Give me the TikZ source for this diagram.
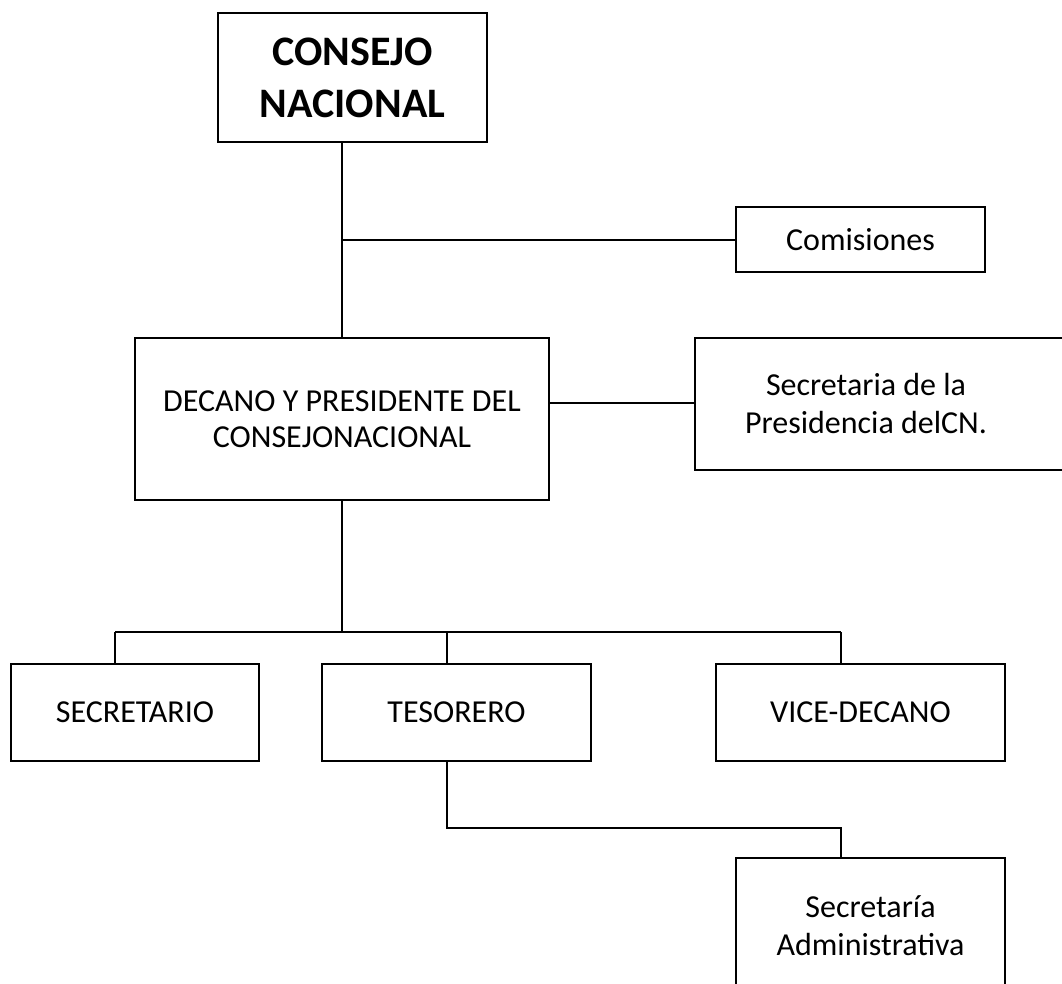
\documentclass[tikz,border=0pt]{standalone}
\usepackage{fontspec}
\setmainfont{Carlito}
\begin{document}
\begin{tikzpicture}[x=1pt,y=-1pt,
  box/.style={draw, line width=2pt, inner sep=0pt, outer sep=0pt, anchor=north west, align=center, font=\fontsize{32}{36}\selectfont},
  lbl/.style={align=center, inner sep=0pt, font=\fontsize{32}{38}\selectfont},
  link/.style={line width=2pt}]
\useasboundingbox (0,0) rectangle (1062,983);
\clip (0,0) rectangle (1062,983);
% boxes
\node[box, minimum width=269pt, minimum height=129pt, font=\fontsize{42}{52}\selectfont\bfseries] (cn) at (218,13) {CONSEJO\\NACIONAL};
\node[box, minimum width=249pt, minimum height=65pt] (com) at (736,207) {Comisiones};
\node[box, minimum width=414pt, minimum height=162pt] (dec) at (135,338) {DECANO Y PRESIDENTE DEL\\CONSEJONACIONAL};
\node[box, minimum width=420pt, minimum height=132pt] (sp) at (695,338) {};
\node[lbl] (spt) at (866,404) {Secretaria de la\\Presidencia delCN.};
\node[box, minimum width=248pt, minimum height=97pt] (sec) at (11,664) {SECRETARIO};
\node[box, minimum width=269pt, minimum height=97pt] (tes) at (322,664) {TESORERO};
\node[box, minimum width=289pt, minimum height=97pt] (vic) at (716,664) {VICE-DECANO};
\node[box, minimum width=269pt, minimum height=136pt, font=\fontsize{32}{38}\selectfont] (adm) at (736,858) {Secretaría\\Administrativa};
% helper coordinates
\coordinate (top) at (dec.north);
\coordinate (j1) at ([yshift=16pt]dec.east);
\coordinate (bus) at (0,632);
\coordinate (d1) at ([xshift=-20pt]sec.north);
\coordinate (d2) at ([xshift=-9.5pt]tes.north);
\coordinate (d3) at ([xshift=-19.5pt]vic.north);
\coordinate (t2) at ([xshift=-9.5pt]tes.south);
\coordinate (a1) at ([xshift=-29.5pt]adm.north);
\coordinate (elb) at (0,828);
% connectors
\draw[link] (top |- cn.south) -- (top);
\draw[link] (top |- com.west) -- (com.west);
\draw[link] (j1) -- (j1 -| sp.west);
\draw[link] (dec.south) -- (dec.south |- bus);
\draw[link] (d1 |- bus) -- (d3 |- bus);
\draw[link] (d1 |- bus) -- (d1);
\draw[link] (d2 |- bus) -- (d2);
\draw[link] (d3 |- bus) -- (d3);
\draw[link] (t2) |- (elb -| a1) -- (a1);
\end{tikzpicture}
\end{document}
